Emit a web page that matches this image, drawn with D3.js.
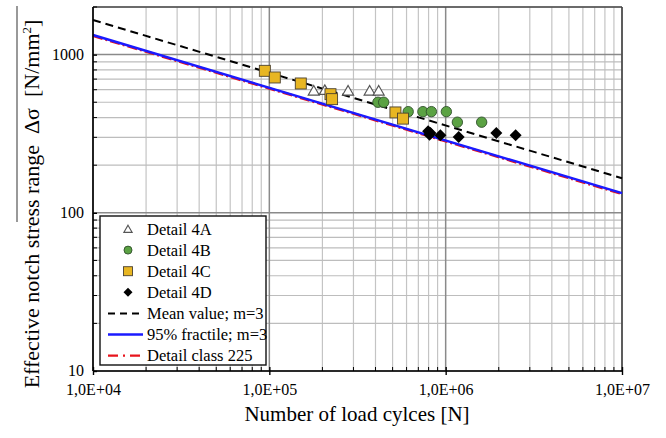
<!DOCTYPE html>
<html>
<head>
<meta charset="utf-8">
<script src="https://cdn.jsdelivr.net/npm/d3@7"></script>
<style>
  body { margin: 0; background: #fff; }
  svg text { font-family: "Liberation Serif", "Times New Roman", serif; }
</style>
</head>
<body>
<svg id="chart" width="666" height="438"></svg>
<script>
// test data: [cycles N, stress range]
const detail4A = [[178600, 590], [206300, 596], [279600, 590], [370600, 590], [417000, 590]];
const detail4B = [[413000, 500], [445000, 500], [613000, 436], [743000, 436], [830000, 436],
  [1009000, 436], [1165000, 374], [1600000, 374]];
const detail4C = [[94300, 790], [107400, 717], [150800, 657], [222200, 562], [226900, 523],
  [519000, 431], [573000, 394]];
const detail4D = [[795000, 328], [810000, 312], [820000, 320], [933000, 309], [1185000, 302],
  [1938000, 320], [2493000, 309]];

// S-N curves, slope m = 3, reference value at 2e6 cycles
const slopeM = 3;
const meanFat = 283;
const fractileFat = 227.5;
const classFat = 225;
const lineN = [1e4, 1e7];

const xTicks = [1e4, 1e5, 1e6, 1e7];
const xTickLabels = ["1,0E+04", "1,0E+05", "1,0E+06", "1,0E+07"];
const yTicks = [10, 100, 1000];
const yTickLabels = ["10", "100", "1000"];

const margin = { top: 7, right: 44, bottom: 67, left: 93 };
const width = 666, height = 438;

const svg = d3.select("#chart");

const x = d3.scaleLog().domain([1e4, 1e7]).range([margin.left, width - margin.right]);
const y = d3.scaleLog().domain([10, 2000]).range([height - margin.bottom, margin.top]);

const x0 = x.range()[0], x1 = x.range()[1];
const y0 = y.range()[0], y1 = y.range()[1];

// minor values
const xMinor = [];
for (let e = 4; e < 7; e++) for (let k = 2; k <= 9; k++) xMinor.push(k * Math.pow(10, e));
const yMinor = [];
for (let e = 1; e < 4; e++) for (let k = 2; k <= 9; k++) {
  const v = k * Math.pow(10, e);
  if (v <= 2000) yMinor.push(v);
}

// grid
const grid = svg.append("g");
grid.selectAll(".xminor").data(xMinor).join("line")
  .attr("x1", d => x(d)).attr("x2", d => x(d))
  .attr("y1", y0).attr("y2", y1)
  .attr("stroke", "#c4c4c4").attr("stroke-width", 1.2);
grid.selectAll(".yminor").data(yMinor).join("line")
  .attr("y1", d => y(d)).attr("y2", d => y(d))
  .attr("x1", x0).attr("x2", x1)
  .attr("stroke", "#bdbdbd").attr("stroke-width", 1.2);
grid.selectAll(".xmajor").data(xTicks).join("line")
  .attr("x1", d => x(d)).attr("x2", d => x(d))
  .attr("y1", y0).attr("y2", y1)
  .attr("stroke", "#8a8a8a").attr("stroke-width", 1.5);
grid.selectAll(".ymajor").data(yTicks).join("line")
  .attr("y1", d => y(d)).attr("y2", d => y(d))
  .attr("x1", x0).attr("x2", x1)
  .attr("stroke", "#8a8a8a").attr("stroke-width", 1.5);

// frame top / right
svg.append("line").attr("x1", x0).attr("x2", x1).attr("y1", y1).attr("y2", y1)
  .attr("stroke", "#444").attr("stroke-width", 1.5);
svg.append("line").attr("x1", x1).attr("x2", x1).attr("y1", y1).attr("y2", y0)
  .attr("stroke", "#444").attr("stroke-width", 1.5);

// S-N lines
const curve = fat => lineN.map(n => [n, fat * Math.pow(2e6 / n, 1 / slopeM)]);
const line = d3.line().x(d => x(d[0])).y(d => y(d[1]));

svg.append("path").datum(curve(meanFat)).attr("d", line)
  .attr("fill", "none").attr("stroke", "#000").attr("stroke-width", 2)
  .attr("stroke-dasharray", "8,5");
svg.append("path").datum(curve(classFat)).attr("d", line)
  .attr("fill", "none").attr("stroke", "#e8141c").attr("stroke-width", 2.6)
  .attr("stroke-dasharray", "10,3,2,3");
svg.append("path").datum(curve(fractileFat)).attr("d", line)
  .attr("fill", "none").attr("stroke", "#1a1aff").attr("stroke-width", 2.4);

// markers
const tri = d3.symbol().type(d3.symbolTriangle).size(52);
const diamondPath = r => `M0,${-r}L${r},0L0,${r}L${-r},0Z`;

svg.append("g").selectAll("path").data(detail4A).join("path")
  .attr("d", tri)
  .attr("transform", d => `translate(${x(d[0])},${y(d[1]) + 1})`)
  .attr("fill", "#fff").attr("stroke", "#555").attr("stroke-width", 1.2);

svg.append("g").selectAll("circle").data(detail4B).join("circle")
  .attr("cx", d => x(d[0])).attr("cy", d => y(d[1])).attr("r", 5.2)
  .attr("fill", "#5ba243").attr("stroke", "#2f4f2a").attr("stroke-width", 0.9);

svg.append("g").selectAll("rect").data(detail4C).join("rect")
  .attr("x", d => x(d[0]) - 5.5).attr("y", d => y(d[1]) - 5.5)
  .attr("width", 11).attr("height", 11)
  .attr("fill", "#e8b622").attr("stroke", "#4a4030").attr("stroke-width", 0.9);

svg.append("g").selectAll("path").data(detail4D).join("path")
  .attr("d", diamondPath(6))
  .attr("transform", d => `translate(${x(d[0])},${y(d[1])})`)
  .attr("fill", "#000");

// axes
const xAxis = svg.append("g").attr("transform", `translate(0,${y0})`);
xAxis.call(d3.axisBottom(x).tickValues(xTicks).tickSize(4).tickFormat((d, i) => xTickLabels[i]));
xAxis.select(".domain").attr("stroke-width", 1.6).attr("d", `M${x0},0H${x1}`);
xAxis.selectAll(".tick line").attr("y1", -4).attr("stroke-width", 1.4);
xAxis.selectAll(".tick text").attr("y", 13).attr("dy", "0.71em")
  .attr("font-size", 16).attr("font-family", "Liberation Serif").attr("fill", "#000");
xAxis.selectAll(".mtick").data(xMinor).join("line")
  .attr("x1", d => x(d)).attr("x2", d => x(d)).attr("y1", 0).attr("y2", -4)
  .attr("stroke", "#000").attr("stroke-width", 1);

const yAxis = svg.append("g").attr("transform", `translate(${x0},0)`);
yAxis.call(d3.axisLeft(y).tickValues(yTicks).tickSize(5).tickFormat((d, i) => yTickLabels[i]));
yAxis.select(".domain").attr("stroke-width", 1.6).attr("d", `M0,${y0}V${y1}`);
yAxis.selectAll(".tick line").attr("x2", 4).attr("stroke-width", 1.4);
yAxis.selectAll(".tick text").attr("x", -9).attr("dy", "0.28em")
  .attr("font-size", 16).attr("font-family", "Liberation Serif").attr("fill", "#000");
yAxis.selectAll(".mtick").data(yMinor).join("line")
  .attr("y1", d => y(d)).attr("y2", d => y(d)).attr("x1", 0).attr("x2", 4)
  .attr("stroke", "#000").attr("stroke-width", 1);

// axis titles
svg.append("text").attr("x", 357).attr("y", 421)
  .attr("text-anchor", "middle").attr("font-size", 21).text("Number of load cylces [N]");

const yt = svg.append("text").attr("transform", "translate(39,204) rotate(-90)")
  .attr("text-anchor", "middle").attr("font-size", 22);
yt.append("tspan").text("Effective notch stress range\u00a0\u00a0Δσ\u00a0\u00a0[N/mm");
yt.append("tspan").attr("dy", -8).attr("font-size", 13).text("2");
yt.append("tspan").attr("dy", 8).text("]");
svg.append("line").attr("x1", 17).attr("x2", 17).attr("y1", 6).attr("y2", 222)
  .attr("stroke", "#555").attr("stroke-width", 1.2);

// legend
const lg = svg.append("g").attr("transform", "translate(100,216)");
lg.append("rect").attr("width", 166).attr("height", 149)
  .attr("fill", "#fff").attr("stroke", "#111").attr("stroke-width", 1.4);
const items = [
  { label: "Detail 4A", kind: "tri" },
  { label: "Detail 4B", kind: "circ" },
  { label: "Detail 4C", kind: "sq" },
  { label: "Detail 4D", kind: "dia" },
  { label: "Mean value; m=3", kind: "mean" },
  { label: "95% fractile; m=3", kind: "frac" },
  { label: "Detail class 225", kind: "cls" }
];
items.forEach((it, i) => {
  const cy = 13 + i * 21.1;
  const g = lg.append("g").attr("transform", `translate(0,${cy})`);
  const cx = 28;
  if (it.kind === "tri") {
    g.append("path").attr("d", d3.symbol().type(d3.symbolTriangle).size(30))
      .attr("transform", `translate(${cx},1)`).attr("fill", "#fff").attr("stroke", "#555").attr("stroke-width", 1.1);
  } else if (it.kind === "circ") {
    g.append("circle").attr("cx", cx).attr("cy", 0).attr("r", 4)
      .attr("fill", "#5ba243").attr("stroke", "#2f4f2a").attr("stroke-width", 0.9);
  } else if (it.kind === "sq") {
    g.append("rect").attr("x", cx - 4.5).attr("y", -4.5).attr("width", 9).attr("height", 9)
      .attr("fill", "#e8b622").attr("stroke", "#4a4030").attr("stroke-width", 0.9);
  } else if (it.kind === "dia") {
    g.append("path").attr("d", diamondPath(4.5))
      .attr("transform", `translate(${cx},0)`).attr("fill", "#000");
  } else {
    const ln = g.append("line").attr("x1", 8).attr("x2", 43).attr("y1", 0).attr("y2", 0);
    if (it.kind === "mean") ln.attr("stroke", "#000").attr("stroke-width", 2).attr("stroke-dasharray", "7,5");
    if (it.kind === "frac") ln.attr("stroke", "#1a1aff").attr("stroke-width", 2.4);
    if (it.kind === "cls") ln.attr("stroke", "#e8141c").attr("stroke-width", 2.4).attr("stroke-dasharray", "10,5,2,5");
  }
  g.append("text").attr("x", 47).attr("y", 0).attr("dy", "0.35em")
    .attr("font-size", 16.5).text(it.label);
});
</script>
</body>
</html>
